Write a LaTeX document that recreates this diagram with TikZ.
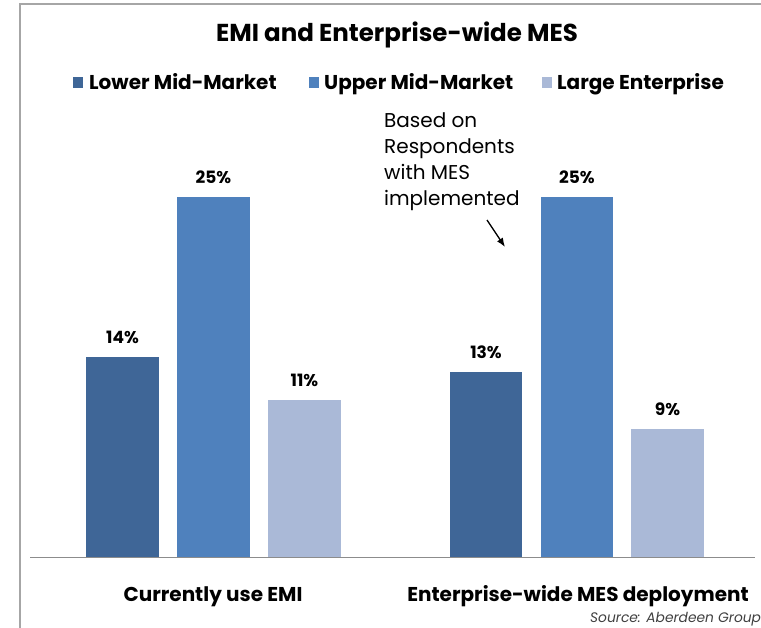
\documentclass[tikz,border=0pt]{standalone}
\usepackage{fontspec}
\usetikzlibrary{arrows.meta}
\setmainfont{Poppins}
\definecolor{lowc}{HTML}{3F6697}
\definecolor{upc}{HTML}{4F81BD}
\definecolor{largec}{HTML}{AAB9D7}
\definecolor{framec}{HTML}{A6A6A6}
\definecolor{axisc}{HTML}{8C8C8C}
\tikzset{
  vlabel/.style={font=\fontsize{17}{19}\selectfont\bfseries, anchor=base, inner sep=0pt},
  leg/.style={font=\fontsize{20}{23}\selectfont\bfseries, anchor=base west, inner sep=0pt},
  cat/.style={font=\fontsize{20}{23}\selectfont\bfseries, anchor=base, inner sep=0pt},
}
\begin{document}
\begin{tikzpicture}[x=1pt,y=-1pt]
\useasboundingbox (0,0) rectangle (761,628);
\clip (0,0) rectangle (761,628);
\fill[white] (0,0) rectangle (761,628);
% frame
\draw[framec, line width=2pt] (20,628) -- (20,4) -- (761,4);
% title
\node[font=\fontsize{24.5}{28}\selectfont\bfseries, inner sep=0pt, anchor=base] (title) at (397,42) {EMI and Enterprise-wide MES};
% legend
\fill[lowc] (73,77) rectangle (83,88);
\node[leg] (l1) at (89,90) {Lower Mid-Market};
\fill[upc] (309,77) rectangle (319,88);
\node[leg] (l2) at (324,90) {Upper Mid-Market};
\fill[largec] (542,77) rectangle (552,88);
\node[leg] (l3) at (557,90) {Large Enterprise};
% bars group 1
\fill[lowc] (86,557) rectangle (159,357);
\fill[upc] (177,557) rectangle (250,197);
\fill[largec] (268,557) rectangle (341,400);
% bars group 2
\fill[lowc] (450,557) rectangle (522,372);
\fill[upc] (541,557) rectangle (613,197);
\fill[largec] (631,557) rectangle (704,429);
% value labels
\node[vlabel] (v1) at (122.5,344) {14\%};
\node[vlabel] (v2) at (213.5,184) {25\%};
\node[vlabel] (v3) at (304.5,387) {11\%};
\node[vlabel] (v4) at (486,359) {13\%};
\node[vlabel] (v5) at (577,184) {25\%};
\node[vlabel] (v6) at (667.5,416) {9\%};
% axis
\draw[axisc, line width=1pt] (30,557) -- (755,557);
% categories
\node[cat] (c1) at (213,601) {Currently use EMI};
\node[cat] (c2) at (578,601) {Enterprise-wide MES deployment};
% source
\node[font=\fontsize{13.8}{16}\selectfont\itshape, anchor=base west, inner sep=0pt, text=black!75] (src) at (590,622) {Source: Aberdeen Group};
% annotation
\node[font=\fontsize{20}{26}\selectfont, align=left, anchor=base west, inner sep=0pt] (note) at (384,206) {Based on\\Respondents\\with MES\\implemented};
\coordinate (arrtip) at (505,247);
\coordinate (arrstart) at (487,220);
\draw[-{Latex[length=9pt,width=7pt]}, line width=1.3pt] (arrstart) -- (arrtip);
\end{tikzpicture}
\end{document}
